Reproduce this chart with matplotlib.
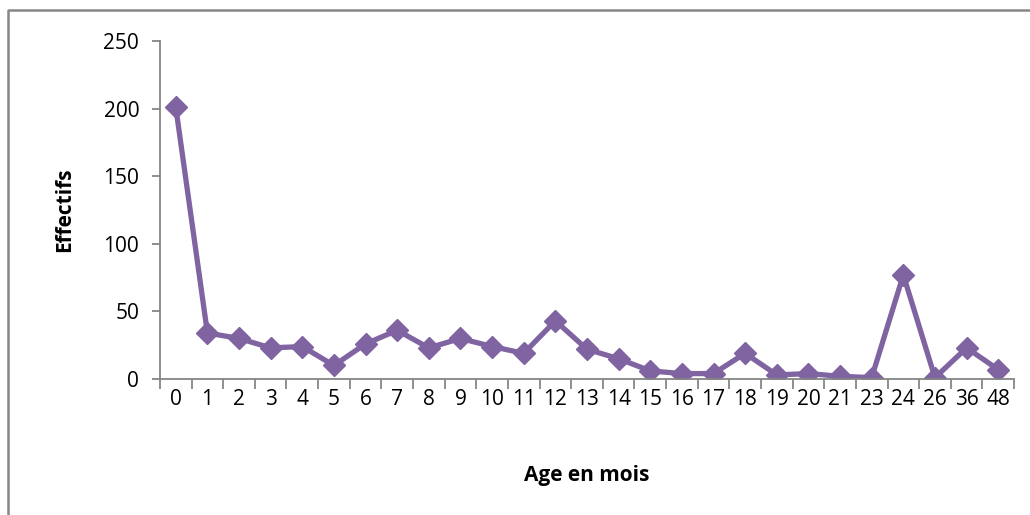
import matplotlib
matplotlib.use('Agg')
import matplotlib.pyplot as plt
from matplotlib.lines import Line2D
import numpy as np

ages = ['0', '1', '2', '3', '4', '5', '6', '7', '8', '9', '10', '11', '12', '13',
        '14', '15', '16', '17', '18', '19', '20', '21', '23', '24', '26', '36', '48']
effectifs = [201, 34, 30, 23, 24, 10, 26, 36, 23, 30, 24, 19, 43, 22,
             15, 6, 4, 4, 19, 3, 4, 2, 1, 77, 1, 23, 7]

plt.rcParams['font.family'] = ['Open Sans', 'DejaVu Sans']

fig = plt.figure(figsize=(10.3, 5.15), dpi=100)
ax = fig.add_axes([0.1553, 0.2641, 0.8292, 0.6563])

x = np.arange(len(ages))
ax.plot(x, effectifs, color='#8064A2', linewidth=3.8, marker='D',
        markersize=11.5, markeredgecolor='#8064A2', markerfacecolor='#8064A2')

ax.set_xlim(-0.5, len(ages) - 0.5)
ax.set_ylim(0, 250)
ax.set_yticks(range(0, 251, 50))
ax.set_xticks(x)
ax.set_xticklabels(ages)
ax.set_xticks(np.arange(-0.5, len(ages), 1), minor=True)

gray = '#868686'
for s in ['top', 'right']:
    ax.spines[s].set_visible(False)
for s in ['left', 'bottom']:
    ax.spines[s].set_color(gray)
    ax.spines[s].set_linewidth(1.3)

ax.tick_params(axis='y', direction='out', length=6, width=1.3, color=gray,
               labelsize=15, pad=9)
ax.tick_params(axis='x', which='major', length=0, labelsize=15, pad=7)
ax.tick_params(axis='x', which='minor', direction='out', length=7, width=1.3, color=gray)

ax.set_ylabel('Effectifs', fontsize=15, fontweight='bold', labelpad=20)
ax.set_xlabel('Age en mois', fontsize=15, fontweight='bold', labelpad=40)

# outer chart border (top and left visible)
fig.add_artist(Line2D([8 / 1030, 8 / 1030, 1.0], [0.0, 1 - 10 / 515, 1 - 10 / 515],
                      transform=fig.transFigure, color='#878787', linewidth=1.8))

fig.savefig('out.png', dpi=100)
